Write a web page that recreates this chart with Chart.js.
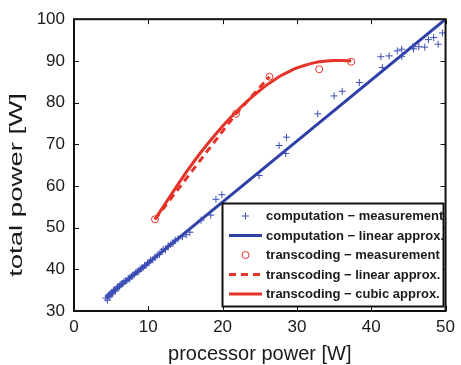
<!DOCTYPE html>
<html><head><meta charset="utf-8">
<script src="https://cdn.jsdelivr.net/npm/chart.js@4"></script>
<style>html,body{margin:0;padding:0;background:#fff}canvas{display:block}</style>
</head><body>
<canvas id="c" width="461" height="365"></canvas>
<script>
const xTicks = [0, 10, 20, 30, 40, 50];
const yTicks = [30, 40, 50, 60, 70, 80, 90, 100];
const seriesLabels = [
  'computation \u2212 measurement',
  'computation \u2212 linear approx.',
  'transcoding \u2212 measurement',
  'transcoding \u2212 linear approx.',
  'transcoding \u2212 cubic approx.'
];
const compMeasX = [4.3,4.5,4.6,4.7,4.8,4.9,5.0,5.1,5.2,5.3,5.5,5.6,5.8,5.9,6.1,6.2,6.4,6.6,6.7,6.9,7.1,7.3,7.5,7.7,7.9,8.1,8.3,8.5,8.7,8.9,9.1,9.3,9.5,9.7,9.9,10.1,10.3,10.6,10.9,11.2,11.5,11.8,12.0,12.3,12.7,13.0,13.3,13.6,14.0,14.6,15.1,15.6,17.1,18.4,19.1,19.9,24.9,27.6,28.5,28.6,32.8,35.0,36.1,38.4,41.3,41.5,42.4,43.5,44.1,44.1,45.6,45.7,46.4,47.2,47.7,48.4,49.0,49.6];
const compMeasY = [33.1,32.6,33.6,33.9,33.4,34.2,33.9,34.5,34.3,34.9,35.1,34.8,35.5,35.9,35.8,36.3,36.5,36.6,37.0,37.2,37.3,37.8,37.7,38.3,38.6,38.7,39.2,39.4,39.5,40.0,40.3,40.4,40.9,41.0,41.5,41.6,42.2,42.3,42.9,43.4,43.6,44.3,44.8,44.7,45.6,46.0,46.2,47.0,47.3,47.9,48.3,48.9,51.8,53.0,56.8,57.9,62.5,69.7,67.8,71.7,77.3,81.6,82.7,84.8,91.0,88.4,91.2,92.4,92.8,91.0,93.4,92.9,93.4,93.3,95.1,95.6,94.0,96.7];
const compLinX = [4.3, 50];
const compLinY = [33.2, 100];
const transMeasX = [10.9, 21.8, 26.3, 33.0, 37.3];
const transMeasY = [52.0, 77.3, 86.2, 88.0, 89.8];
const transLinX = [10.9, 21.8, 26.3];
const transLinY = [52.0, 77.3, 86.2];
const transCubX = [10.9,13,15,17,19,21,22,23,24,25,26,27,28,29,30,31,32,33,34,35,36,37.3];
const transCubY = [52.0,57.7,63.0,67.9,72.3,76.3,78.1,79.8,81.4,82.9,84.3,85.5,86.6,87.5,88.3,88.9,89.4,89.8,90.0,90.1,90.1,90.0];

const pts = (xs, ys) => xs.map((x, i) => ({x: x, y: ys[i]}));
const BLUE = '#2f3fa8', BLUE_PT = '#3d4fb5', RED = '#e6332a';
const FONT = '"Liberation Sans", Arial, sans-serif';

const frame = {
  id: 'frame',
  afterDatasetsDraw(chart) {
    const ctx = chart.ctx, a = chart.chartArea;
    const xs = chart.scales.x, ys = chart.scales.y;
    ctx.save();
    ctx.strokeStyle = '#111';
    ctx.lineWidth = 1;
    ctx.beginPath();
    xTicks.forEach(v => {
      const px = Math.round(xs.getPixelForValue(v)) + 0.5;
      ctx.moveTo(px, a.bottom); ctx.lineTo(px, a.bottom - 5);
      ctx.moveTo(px, a.top); ctx.lineTo(px, a.top + 5);
    });
    yTicks.forEach(v => {
      const py = Math.round(ys.getPixelForValue(v)) + 0.5;
      ctx.moveTo(a.left, py); ctx.lineTo(a.left + 5, py);
      ctx.moveTo(a.right, py); ctx.lineTo(a.right - 5, py);
    });
    ctx.stroke();
    ctx.lineWidth = 2;
    ctx.strokeRect(a.left, a.top, a.right - a.left, a.bottom - a.top);
    ctx.restore();
  },
  afterDraw(chart) {
    const ctx = chart.ctx;
    ctx.save();
    ctx.fillStyle = '#1a1a1a';
    ctx.font = '19px ' + FONT;
    ctx.textAlign = 'center';
    ctx.textBaseline = 'middle';
    ctx.translate(17, 185);
    ctx.rotate(-Math.PI / 2);
    ctx.scale(1.45, 1);
    ctx.fillText('total power [W]', 0, 0);
    ctx.restore();

    ctx.save();
    const L = 222.5, T = 203.5, R = 443.5, B = 306.5;
    ctx.fillStyle = '#fff';
    ctx.fillRect(L, T, R - L, B - T);
    ctx.strokeStyle = '#111';
    ctx.lineWidth = 2;
    ctx.strokeRect(L, T, R - L, B - T);
    const rows = [216, 235.5, 255, 274.5, 294];
    ctx.font = 'bold 13px ' + FONT;
    ctx.textBaseline = 'middle';
    ctx.textAlign = 'left';
    chart.data.datasets.forEach((ds, i) => {
      const y = rows[i];
      ctx.save();
      if (ds.showLine) {
        ctx.strokeStyle = ds.borderColor;
        ctx.lineWidth = ds.borderWidth;
        ctx.setLineDash(ds.borderDash || []);
        ctx.beginPath(); ctx.moveTo(229, y); ctx.lineTo(262, y); ctx.stroke();
      } else if (ds.pointStyle === 'cross') {
        ctx.strokeStyle = ds.pointBorderColor; ctx.lineWidth = 1;
        ctx.beginPath();
        ctx.moveTo(242, y); ctx.lineTo(249, y);
        ctx.moveTo(245.5, y - 3.5); ctx.lineTo(245.5, y + 3.5);
        ctx.stroke();
      } else {
        ctx.strokeStyle = ds.pointBorderColor; ctx.lineWidth = 1;
        ctx.beginPath(); ctx.arc(245.5, y, 3.5, 0, Math.PI * 2); ctx.stroke();
      }
      ctx.restore();
      ctx.fillStyle = '#1a1a1a';
      ctx.fillText(ds.label, 266, y + 0.5);
    });
    ctx.restore();
  }
};

new Chart(document.getElementById('c'), {
  type: 'scatter',
  data: {
    datasets: [
      {label: seriesLabels[0], data: pts(compMeasX, compMeasY), showLine: false,
       pointStyle: 'cross', pointRadius: 3.5, pointBorderWidth: 1,
       pointBorderColor: BLUE_PT, pointBackgroundColor: BLUE_PT},
      {label: seriesLabels[1], data: pts(compLinX, compLinY), showLine: true,
       borderColor: BLUE, borderWidth: 3, pointRadius: 0, fill: false},
      {label: seriesLabels[2], data: pts(transMeasX, transMeasY), showLine: false,
       pointStyle: 'circle', pointRadius: 3.5, pointBorderWidth: 1,
       pointBorderColor: RED, pointBackgroundColor: 'rgba(255,255,255,0)'},
      {label: seriesLabels[3], data: pts(transLinX, transLinY), showLine: true,
       borderColor: RED, borderWidth: 3, borderDash: [7, 5], pointRadius: 0, fill: false},
      {label: seriesLabels[4], data: pts(transCubX, transCubY), showLine: true,
       borderColor: RED, borderWidth: 3, pointRadius: 0, fill: false, tension: 0.4, cubicInterpolationMode: 'monotone'}
    ]
  },
  options: {
    responsive: false,
    animation: false,
    layout: {padding: {top: 16, right: 13, left: 0, bottom: 0}},
    plugins: {legend: {display: false}, tooltip: {enabled: false}},
    scales: {
      x: {
        type: 'linear', min: 0, max: 50,
        afterBuildTicks: s => { s.ticks = xTicks.map(v => ({value: v})); },
        afterFit: s => { s.height = 54; },
        grid: {display: false, drawTicks: false},
        border: {display: false},
        ticks: {color: '#1a1a1a', font: {family: FONT, size: 17}, padding: 6, maxRotation: 0, autoSkip: false},
        title: {display: true, text: 'processor power [W]', color: '#1a1a1a',
                font: {family: FONT, size: 20, lineHeight: 1.1}, padding: {top: 0, bottom: 0}}
      },
      y: {
        type: 'linear', min: 30, max: 100,
        afterBuildTicks: s => { s.ticks = yTicks.map(v => ({value: v})); },
        afterFit: s => { s.width = 74; },
        grid: {display: false, drawTicks: false},
        border: {display: false},
        ticks: {color: '#1a1a1a', font: {family: FONT, size: 17}, padding: 9, autoSkip: false}
      }
    }
  },
  plugins: [frame]
});
</script>
</body></html>
